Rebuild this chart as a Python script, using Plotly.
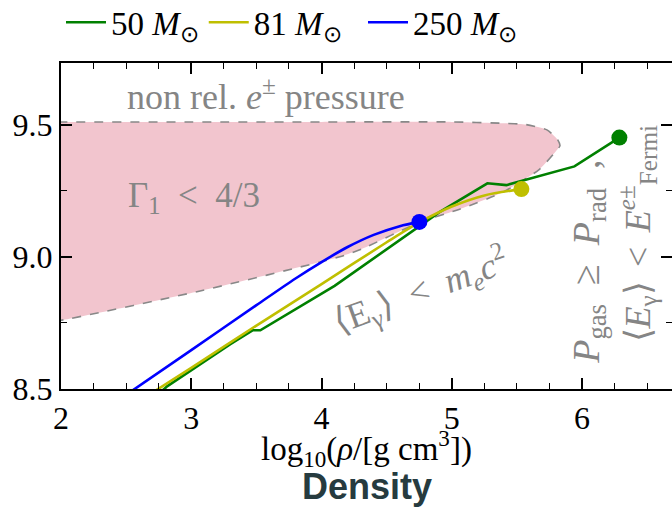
import plotly.graph_objects as go

# ---- data ----
region_x = [1.98, 2.0, 3.0, 4.0, 5.0, 5.4, 5.57, 5.73, 5.81, 5.83, 5.80, 5.67, 5.39, 5.06, 4.75, 4.31, 4.14, 3.06, 2.0, 1.98]
region_y = [9.51, 9.51, 9.51, 9.51, 9.51, 9.505, 9.50, 9.48, 9.445, 9.42, 9.40, 9.33, 9.244, 9.18, 9.13, 9.03, 9.0, 8.87, 8.76, 8.76]

m50_x = [2.70, 2.817, 3.30, 3.42, 3.47, 3.53, 4.10, 4.905, 5.273, 5.419, 5.941, 6.286]
m50_y = [8.46, 8.511, 8.67, 8.708, 8.722, 8.722, 8.89, 9.169, 9.278, 9.271, 9.342, 9.451]

m81_x = [2.65, 3.0, 3.5, 4.0, 4.5, 4.75, 5.0, 5.25, 5.534]
m81_y = [8.47, 8.58, 8.74, 8.897, 9.055, 9.130, 9.19, 9.232, 9.256]

m250_x = [2.50, 3.0, 3.5, 3.8, 4.0, 4.2, 4.4, 4.6, 4.751]
m250_y = [8.478, 8.647, 8.817, 8.918, 8.98, 9.037, 9.083, 9.116, 9.132]

series_names = ["50 <i>M</i><sub>⊙</sub>", "81 <i>M</i><sub>⊙</sub>\u2002", "250 <i>M</i><sub>⊙</sub>"]
series_colors = ["#008000", "#bfbf00", "#0000ff"]

x_range = [2, 6.69]
y_range = [8.5, 9.733]
x_ticks = [2, 3, 4, 5, 6]
y_ticks = [8.5, 9.0, 9.5]
y_tick_labels = ["8.5", "9.0", "9.5"]

SERIF = "Liberation Serif, Times New Roman, serif"
GRAY = "#858585"
SP = "\u2002"
TSP = "\u2009\u2009"

fig = go.Figure()

# shaded region
fig.add_trace(go.Scatter(x=region_x, y=region_y, mode="lines", fill="toself",
                         fillcolor="#f2c5ce", line=dict(color="#888888", width=1.6, dash="dash", shape="spline", smoothing=0.6),
                         showlegend=False, hoverinfo="skip"))

series = [(m50_x, m50_y, "linear"), (m81_x, m81_y, "spline"), (m250_x, m250_y, "spline")]
for (xs, ys, shp), name, col in zip(series, series_names, series_colors):
    fig.add_trace(go.Scatter(x=xs, y=ys, mode="lines", name=name,
                             line=dict(color=col, width=2.6, shape=shp, smoothing=0.8)))
for (xs, ys, shp), col in zip(series, series_colors):
    fig.add_trace(go.Scatter(x=[xs[-1]], y=[ys[-1]], mode="markers", showlegend=False,
                             marker=dict(color=col, size=16), cliponaxis=False))

# invisible trace for the right-side tick axis
fig.add_trace(go.Scatter(x=[x_range[0]], y=[y_range[0]], yaxis="y2", mode="markers",
                         marker=dict(opacity=0), showlegend=False, hoverinfo="skip"))

# annotations
fig.add_annotation(x=3.57, y=9.615, text="non rel. <i>e</i><sup>±</sup> pressure", showarrow=False,
                   font=dict(family=SERIF, size=36, color=GRAY))
fig.add_annotation(x=3.02, y=9.226, text="Γ<sub>1</sub>" + SP + "&lt;" + SP + "4/3", showarrow=False,
                   font=dict(family=SERIF, size=35, color=GRAY))
fig.add_annotation(x=4.76, y=8.872, text="⟨E<sub>γ</sub>⟩" + SP + "&lt;" + SP + "<i>m<sub>e</sub>c</i><sup>2</sup>", showarrow=False,
                   textangle=-20, font=dict(family=SERIF, size=36, color=GRAY))
fig.add_annotation(x=6.05, y=8.98,
                   text="<i>P</i><sub>gas</sub>" + SP + "≥" + SP + "<i>P</i><sub>rad</sub>" + SP + ",",
                   showarrow=False, textangle=-90, font=dict(family=SERIF, size=38, color=GRAY))
fig.add_annotation(x=6.43, y=9.085,
                   text="⟨<i>E</i><sub>γ</sub>⟩" + TSP + "&lt;" + TSP + "<i>E</i><sup><i>e</i>±</sup><sub>Fermi</sub>",
                   showarrow=False, textangle=-90, font=dict(family=SERIF, size=36, color=GRAY))

fig.add_annotation(xref="paper", yref="paper", x=0.5, y=-0.183, yanchor="middle",
                   text="log<sub>10</sub>(<i>ρ</i>/[g cm<sup>3</sup>])", showarrow=False,
                   font=dict(family=SERIF, size=33, color="black"))
fig.add_annotation(xref="paper", yref="paper", x=0.5, y=-0.298, yanchor="middle",
                   text="<b>Density</b>", showarrow=False,
                   font=dict(family="Liberation Sans, Arial, sans-serif", size=36, color="#263b3f"))

axis_common = dict(showgrid=False, zeroline=False, ticks="inside", ticklen=11, tickwidth=1.6,
                   tickcolor="black", linecolor="black", linewidth=2,
                   tickfont=dict(family=SERIF, size=32, color="black"))

fig.update_layout(
    width=672, height=507,
    margin=dict(l=61, r=0, t=63, b=118, autoexpand=False),
    plot_bgcolor="white", paper_bgcolor="white",
    font=dict(family=SERIF),
    xaxis=dict(range=x_range, tickvals=x_ticks, showline=True, mirror="ticks", ticklabelstandoff=0,
               minor=dict(ticks="inside", dtick=0.25, ticklen=6, tickwidth=1.4, tickcolor="black"),
               **axis_common),
    yaxis=dict(range=y_range, tickvals=y_ticks, ticktext=y_tick_labels, showline=True, ticklabelstandoff=0,
               minor=dict(ticks="inside", dtick=0.25, ticklen=6, tickwidth=1.4, tickcolor="black"),
               **axis_common),
    yaxis2=dict(range=y_range, overlaying="y", side="right", tickvals=y_ticks, showticklabels=False,
                showline=False, showgrid=False, zeroline=False, ticks="inside", ticklen=11, tickwidth=1.6,
                tickcolor="black",
                minor=dict(ticks="inside", dtick=0.25, ticklen=6, tickwidth=1.4, tickcolor="black")),
    legend=dict(orientation="h", x=0.0, xanchor="left", y=1.125, yanchor="middle",
                font=dict(family=SERIF, size=33, color="black"), bgcolor="rgba(0,0,0,0)",
                tracegroupgap=0, itemwidth=40),
    showlegend=True,
)

fig.write_html("out.html")
